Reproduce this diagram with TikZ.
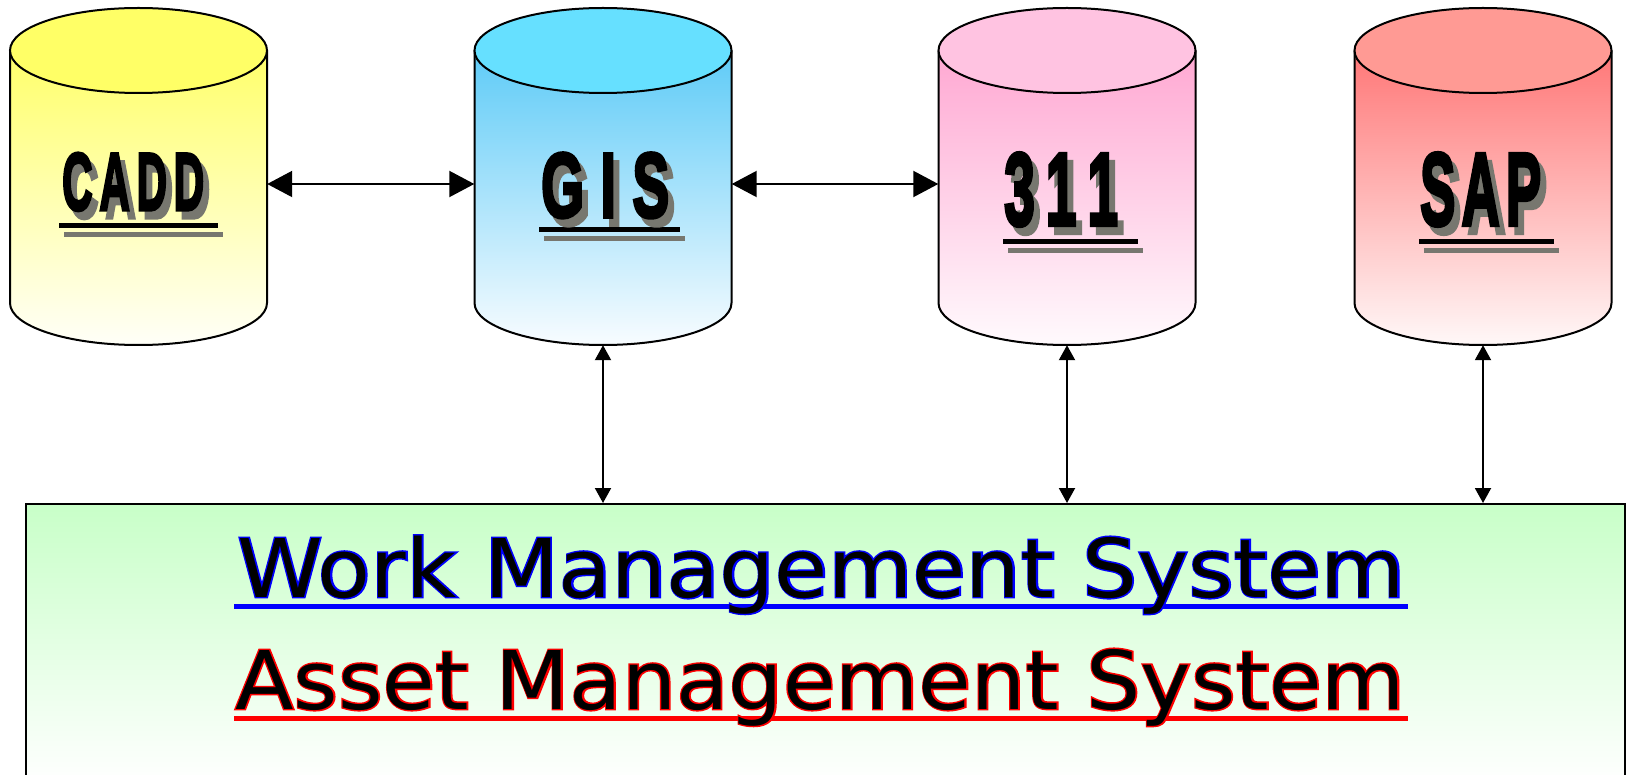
\documentclass[tikz,border=0pt]{standalone}
\usepackage{fontspec}
\usepackage{graphicx}
\usetikzlibrary{arrows.meta}
\newfontfamily\lblfont[BoldFeatures={FakeBold=4}]{Liberation Sans}
\newfontfamily\wmsfont{DejaVu Sans}
\newfontfamily\wmsout[FakeBold=3.5]{DejaVu Sans}
\definecolor{caddell}{HTML}{FFFF66}
\definecolor{caddtop}{HTML}{FFFF55}
\definecolor{caddbot}{HTML}{FFFFF8}
\definecolor{gisell}{HTML}{66E0FF}
\definecolor{gistop}{HTML}{48C4F6}
\definecolor{gisbot}{HTML}{F8FCFF}
\definecolor{tellell}{HTML}{FFC3E1}
\definecolor{telltop}{HTML}{FF9CCC}
\definecolor{tellbot}{HTML}{FFFAFD}
\definecolor{sapell}{HTML}{FF9A94}
\definecolor{saptop}{HTML}{FF6464}
\definecolor{sapbot}{HTML}{FFF8F8}
\definecolor{shadowgray}{HTML}{77776F}
\definecolor{boxgreen}{HTML}{C8FFC8}
\definecolor{wmsblue}{HTML}{0000FF}
\definecolor{amsred}{HTML}{FF0000}
\tikzset{
  cylline/.style={line width=2pt, draw=black},
  harrow/.style={line width=2pt, {Triangle[length=25pt,width=26pt]}-{Triangle[length=25pt,width=26pt]}},
  varrow/.style={line width=2pt, {Triangle[length=15pt,width=16pt]}-{Triangle[length=15pt,width=16pt]}},
  lbl/.style={anchor=base west, inner sep=0pt, font=\fontsize{90}{90}\selectfont},
  mgmtbox/.style={draw=black, line width=2pt, top color=boxgreen, bottom color=white, inner sep=0pt},
  uline/.style={line width=5pt}
}
% #1 name, #2 centre x, #3 body top colour, #4 ellipse colour, #5 body bottom colour
\newcommand\drawcyl[5]{%
  \path[top color=#3, bottom color=#5] ({#2-128.5},50.5) -- ({#2-128.5},303)
     arc[start angle=180,end angle=0,x radius=128.5,y radius=42]
     -- ({#2+128.5},50.5) arc[start angle=0,end angle=-180,x radius=128.5,y radius=42.5] -- cycle;
  \draw[cylline] ({#2-128.5},50.5) -- ({#2-128.5},303)
     arc[start angle=180,end angle=0,x radius=128.5,y radius=42] -- ({#2+128.5},50.5);
  \draw[cylline, fill=#4] (#2,50.5) ellipse[x radius=128.5, y radius=42.5];
  \node[inner sep=0pt, minimum width=257pt, minimum height=322pt] (#1) at (#2,184) {};
}
% #1 name, #2 left x, #3 baseline y, #4 width, #5 height, #6 text, #7 underline y, #8 x1, #9 x2
\newcommand\cyllabel[9]{%
  \fill[shadowgray] ({#8+5},{#7+6}) rectangle ({#9+5},{#7+11});
  \fill[black] (#8,{#7-2.5}) rectangle (#9,{#7+2.5});
  \node[lbl, text=shadowgray] (#1-sh) at ({#2+6},{#3+8}) {\resizebox{#4pt}{#5pt}{\lblfont\bfseries #6}};
  \node[lbl] (#1-lbl) at (#2,#3) {\resizebox{#4pt}{#5pt}{\lblfont\bfseries #6}};
}
\begin{document}
\begin{tikzpicture}[x=1pt,y=-1pt]
\clip (0,0) rectangle (1627,775);
\fill[white] (0,0) rectangle (1627,775);
% management box
\node[mgmtbox, minimum width=1599pt, minimum height=280pt] (mgmt) at (825.5,644) {};
% cylinders
\drawcyl{cadd}{138.5}{caddtop}{caddell}{caddbot}
\drawcyl{gis}{603}{gistop}{gisell}{gisbot}
\drawcyl{t311}{1067}{telltop}{tellell}{tellbot}
\drawcyl{sap}{1483}{saptop}{sapell}{sapbot}
% labels
\cyllabel{cadd}{62}{210}{142}{57}{C\kern.16em A\kern.16em D\kern.16em D}{226}{59}{218}
\cyllabel{gis}{541}{217}{128}{64}{G\kern.3em I\kern.3em S}{230}{539}{680}
\cyllabel{t311}{1004}{225}{114}{72}{3\kern.2em 1\kern.2em 1}{242}{1003}{1138}
\cyllabel{sap}{1420}{225}{121}{72}{S\kern.12em A\kern.12em P}{242}{1419}{1554}
% connectors
\draw[harrow] (cadd.east) -- (gis.west);
\draw[harrow] (gis.east) -- (t311.west);
\draw[varrow] (gis.south) -- (gis.south |- mgmt.north);
\draw[varrow] (t311.south) -- (t311.south |- mgmt.north);
\draw[varrow] (sap.south) -- (sap.south |- mgmt.north);
% box texts
\draw[uline, wmsblue] (234,606) -- (1408,606);
\draw[uline, amsred] (234,718) -- (1408,718);
\node[anchor=base west, inner sep=0pt] (wms) at (237,597)
  {\resizebox{1168pt}{\height}{\fontsize{81}{81}\selectfont\rlap{\color{wmsblue}\wmsout Work Management System}\wmsfont Work Management System}};
\node[anchor=base west, inner sep=0pt] (ams) at (235,709)
  {\resizebox{1170pt}{\height}{\fontsize{81}{81}\selectfont\rlap{\color{amsred}\wmsout Asset Management System}\wmsfont Asset Management System}};
\end{tikzpicture}
\end{document}
